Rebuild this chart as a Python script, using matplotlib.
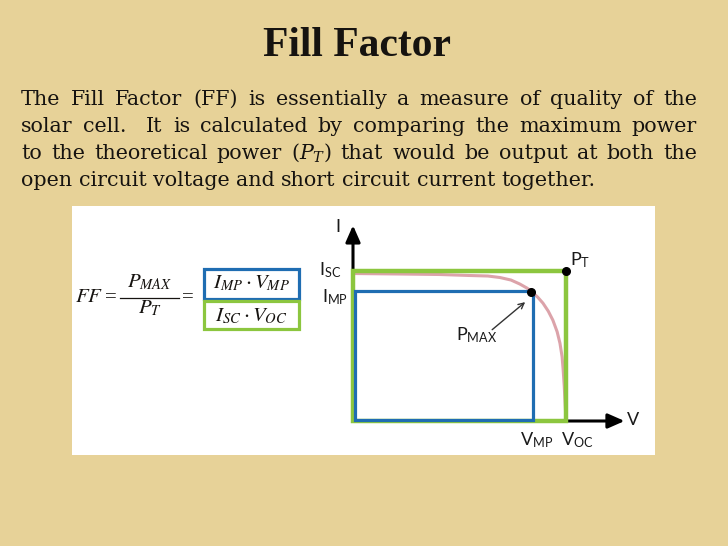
import matplotlib.pyplot as plt
from matplotlib.patches import Rectangle
from matplotlib.transforms import ScaledTranslation

plt.rcParams['mathtext.fontset'] = 'custom'
plt.rcParams['mathtext.rm'] = 'Lato'
plt.rcParams['mathtext.it'] = 'Lato:italic'

# slide text
title = "Fill Factor"
body_lines = [
    "The Fill Factor (FF) is essentially a measure of quality of the",
    "solar cell.  It is calculated by comparing the maximum power",
    r"to the theoretical power ($P_T$) that would be output at both the",
    "open circuit voltage and short circuit current together.",
]

# I-V curve (V, A)
v_curve = [0.0, 0.132, 0.245, 0.33, 0.38, 0.414, 0.445, 0.47, 0.49, 0.50, 0.52,
           0.535, 0.55, 0.563, 0.575, 0.583, 0.589, 0.592, 0.595, 0.597, 0.599, 0.60]
i_curve = [2.94, 2.93, 2.92, 2.90, 2.89, 2.86, 2.81, 2.73, 2.65, 2.60, 2.47,
           2.35, 2.19, 2.01, 1.78, 1.55, 1.28, 1.02, 0.70, 0.42, 0.15, 0.0]
v_oc, i_sc = 0.60, 3.0
v_mp, i_mp = 0.50, 2.58

bg_col = '#e7d298'
green = '#8cc63f'
blue = '#1f6db2'
pink = '#dca3aa'
ink = '#161310'

fig = plt.figure(figsize=(7.28, 5.46), dpi=100, facecolor=bg_col)
bg = fig.add_axes([0, 0, 1, 1])
bg.set_xlim(0, 728)
bg.set_ylim(546, 0)
bg.axis('off')

# title and justified paragraph
bg.text(357, 56.5, title, ha='center', va='baseline', fontsize=30,
        fontweight='bold', family='Liberation Serif', color=ink)

renderer = fig.canvas.get_renderer()
x_left, x_right = 21, 697
for k, line in enumerate(body_lines):
    y = 105 + k * 27
    words = line.split(' ')
    texts = [bg.text(x_left, y, w, ha='left', va='baseline', fontsize=14.9,
                     family='DejaVu Serif', math_fontfamily='dejavuserif', color=ink)
             for w in words]
    widths = [t.get_window_extent(renderer).width if w else 0 for t, w in zip(texts, words)]
    if k < len(body_lines) - 1:
        gap = (x_right - x_left - sum(widths)) / (len(words) - 1)
    else:
        gap = 6.5
    x = x_left
    for t, w in zip(texts, widths):
        t.set_x(x)
        x += w + gap

# white panel
bg.add_patch(Rectangle((72, 206), 583, 249, facecolor='white', edgecolor='none', zorder=1))

# formula
fkw = dict(fontsize=15, math_fontfamily='stix', color=ink, zorder=3)
bg.text(75, 302, r'$FF$', ha='left', va='baseline', **fkw)
bg.text(111, 302, '=', ha='center', va='baseline', family='Liberation Serif', **fkw)
bg.text(150, 287, r'$P_{MAX}$', ha='center', va='baseline', **fkw)
bg.plot([120, 179], [297.5, 297.5], color=ink, lw=0.9, zorder=3)
bg.text(150, 313, r'$P_T$', ha='center', va='baseline', **fkw)
bg.text(188, 302, '=', ha='center', va='baseline', family='Liberation Serif', **fkw)
bg.text(251, 288, r'$I_{MP}\cdot V_{MP}$', ha='center', va='baseline', **fkw)
bg.text(251, 321, r'$I_{SC}\cdot V_{OC}$', ha='center', va='baseline', **fkw)
bg.add_patch(Rectangle((203.5, 268.5), 95.5, 30, fill=False, edgecolor=blue, lw=2.3, zorder=3))
bg.add_patch(Rectangle((203.5, 300.5), 95.5, 28.5, fill=False, edgecolor=green, lw=2.3, zorder=3))

# diagram axes: origin at (353, 421) px, Voc -> 213 px, Isc -> 150.5 px
px_v = 213 / v_oc
px_i = 150.5 / i_sc
xlo, xhi, ylo, yhi = -0.1, 0.85, -0.45, 4.2
left_px, right_px = 353 + xlo * px_v, 353 + xhi * px_v
bot_px, top_px = 421 - ylo * px_i, 421 - yhi * px_i
ax = fig.add_axes([left_px / 728, (546 - bot_px) / 546,
                   (right_px - left_px) / 728, (bot_px - top_px) / 546])
ax.set_xlim(xlo, xhi)
ax.set_ylim(ylo, yhi)
ax.axis('off')
ax.patch.set_alpha(0)

akw = dict(arrowstyle='-|>,head_length=0.5,head_width=0.22', color='black', lw=2.2,
           shrinkA=0, shrinkB=0, mutation_scale=20)
ax.annotate('', xy=(0, 3.9), xytext=(0, 0), arrowprops=akw, zorder=2)
ax.annotate('', xy=(0.765, 0), xytext=(0, 0), arrowprops=akw, zorder=2)

ax.plot(v_curve, i_curve, color=pink, lw=2.2, zorder=3, solid_capstyle='butt')
ax.add_patch(Rectangle((0, 0), v_oc, i_sc, fill=False, edgecolor=green, lw=3.2, zorder=4))
shift = ScaledTranslation(2 / 100, 1 / 100, fig.dpi_scale_trans)
ax.add_patch(Rectangle((0, 0), v_mp, i_mp, fill=False, edgecolor=blue, lw=2.3, zorder=5,
                       transform=ax.transData + shift))
ax.plot([v_mp, v_oc], [i_mp, i_sc], 'o', color='black', ms=5.5, zorder=6)

lkw = dict(fontsize=13, color='#1a1a1a', zorder=6)
ax.text(-0.042, 3.86, r'$\mathrm{I}$', ha='center', va='center', **lkw)
ax.text(-0.034, i_sc, r'$\mathrm{I_{SC}}$', ha='right', va='center', **lkw)
ax.text(-0.014, i_mp - 0.12, r'$\mathrm{I_{MP}}$', ha='right', va='center', **lkw)
ax.text(v_oc + 0.012, i_sc + 0.2, r'$\mathrm{P_T}$', ha='left', va='center', **lkw)
ax.text(0.349, 1.72, r'$\mathrm{P_{MAX}}$', ha='center', va='center', **lkw)
ax.text(v_mp + 0.016, -0.38, r'$\mathrm{V_{MP}}$', ha='center', va='center', **lkw)
ax.text(v_oc + 0.031, -0.38, r'$\mathrm{V_{OC}}$', ha='center', va='center', **lkw)
ax.text(0.79, 0.02, r'$\mathrm{V}$', ha='center', va='center', **lkw)
ax.annotate('', xy=(0.485, 2.37), xytext=(0.392, 1.82),
            arrowprops=dict(arrowstyle='->', color='#333333', lw=1.0,
                            shrinkA=0, shrinkB=0), zorder=6)

fig.savefig('out.png', dpi=100, facecolor=bg_col)
